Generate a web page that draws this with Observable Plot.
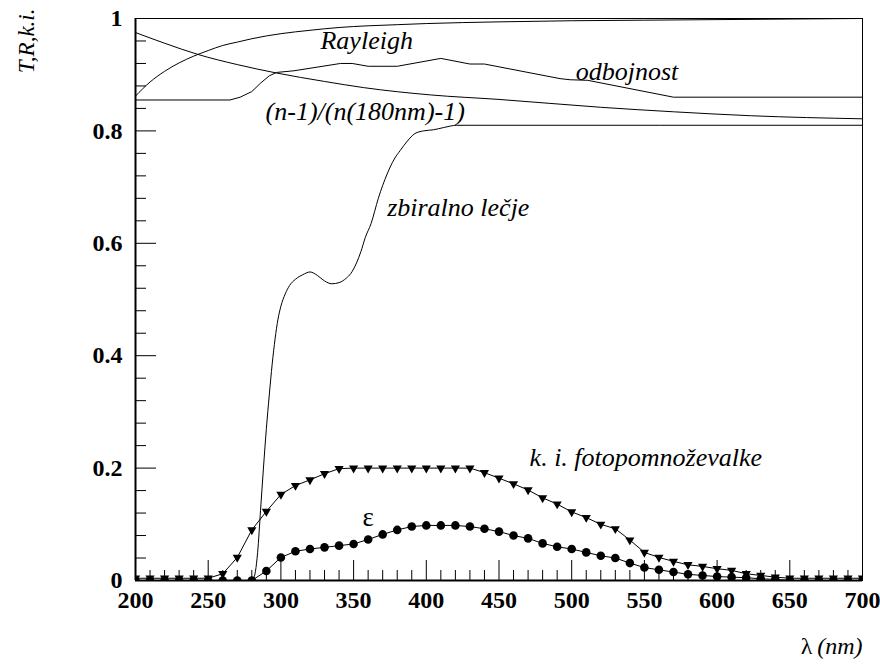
<!DOCTYPE html>
<html><head><meta charset="utf-8">
<script src="https://cdn.jsdelivr.net/npm/d3@7"></script>
<script src="https://cdn.jsdelivr.net/npm/@observablehq/plot@0.6"></script>
<style>body{margin:0;background:#fff}</style>
</head><body><div id="chart"></div>
<script>
// ---- data (wavelength in nm, values 0..1) ----
const lambdaMarkers = [200,210,220,230,240,250,260,270,280,290,300,310,320,330,340,350,360,370,380,390,400,410,420,430,440,450,460,470,480,490,500,510,520,530,540,550,560,570,580,590,600,610,620,630,640,650,660,670,680,690,700];
const kiValues = [0.004,0.004,0.004,0.004,0.004,0.004,0.012,0.041,0.09,0.123,0.153,0.169,0.179,0.19,0.199,0.2,0.2,0.2,0.2,0.2,0.2,0.2,0.2,0.2,0.192,0.182,0.172,0.161,0.147,0.136,0.122,0.112,0.1,0.092,0.072,0.05,0.041,0.034,0.028,0.025,0.021,0.018,0.012,0.009,0.006,0.004,0.004,0.004,0.004,0.004,0.004];
const epsValues = [0,0,0,0,0,0,0,0,0,0.017,0.041,0.052,0.056,0.059,0.062,0.065,0.073,0.082,0.09,0.096,0.098,0.098,0.098,0.096,0.092,0.087,0.08,0.075,0.066,0.06,0.056,0.05,0.044,0.04,0.031,0.023,0.019,0.015,0.011,0.009,0.007,0.006,0.005,0.003,0.002,0,0,0,0,0,0];

const lensLambda = [200,278,281,284,286,288,290,292,294,296,298,300,303,306,310,315,320,325,330,335,340,345,348,352,355,358,362,367,373,378,382,387,392,398,405,412,421,700];
const lensT = [0,0,0.003,0.05,0.125,0.2,0.27,0.33,0.385,0.43,0.465,0.488,0.51,0.525,0.536,0.544,0.549,0.543,0.533,0.528,0.53,0.538,0.546,0.565,0.585,0.61,0.635,0.68,0.723,0.75,0.765,0.782,0.795,0.8,0.802,0.806,0.81,0.81];

const rayleighLambda = [200,210,220,230,240,250,260,270,280,290,300,320,340,360,380,400,450,500,550,600,650,700];
const rayleighT = [0.862,0.887,0.906,0.921,0.933,0.943,0.952,0.958,0.964,0.969,0.973,0.979,0.984,0.987,0.989,0.991,0.994,0.996,0.997,0.998,0.999,1.0];

const indexLambda = [200,220,243,270,297,330,357,403,450,520,570,623,700];
const indexRatio = [0.975,0.956,0.936,0.918,0.903,0.888,0.877,0.864,0.856,0.842,0.834,0.827,0.8215];

const reflLambda = [200,265,272,280,286,292,297,309,341,349,360,380,410,430,440,492,499,511,570,700];
const reflR = [0.855,0.855,0.86,0.87,0.885,0.898,0.904,0.907,0.92,0.92,0.915,0.915,0.929,0.919,0.919,0.893,0.891,0.89,0.86,0.86];

const xMajorTicks = [200,250,300,350,400,450,500,550,600,650,700];
const xMinorTicks = [210,220,230,240,260,270,280,290,310,320,330,340,360,370,380,390,410,420,430,440,460,470,480,490,510,520,530,540,560,570,580,590,610,620,630,640,660,670,680,690];
const yMajorTicks = [0,0.2,0.4,0.6,0.8,1];
const yTickLabels = ["0","0.2","0.4","0.6","0.8","1"];
const yMinorTicks = [0.04,0.08,0.12,0.16,0.24,0.28,0.32,0.36,0.44,0.48,0.52,0.56,0.64,0.68,0.72,0.76,0.84,0.88,0.92,0.96];

const curveLabels = ["Rayleigh","odbojnost","(n-1)/(n(180nm)-1)","zbiralno lečje","k. i. fotopomnoževalke"];
const curveLabelX = [359,538,358,422,551];
const curveLabelY = [0.96,0.906,0.835,0.663,0.218];
const epsLabel = {text: "ε", x: 360, y: 0.112};
const yTitle = "T,R,k.i.";
const xTitleSymbol = "λ";
const xTitleUnit = "(nm)";

// ---- build tables ----
const zip = (xs, ys) => xs.map((x, i) => ({x, y: ys[i]}));
const ki = zip(lambdaMarkers, kiValues);
const eps = zip(lambdaMarkers, epsValues);
const lens = zip(lensLambda, lensT);
const rayleigh = zip(rayleighLambda, rayleighT);
const idx = zip(indexLambda, indexRatio);
const refl = zip(reflLambda, reflR);
const labels = curveLabels.map((t, i) => ({t, x: curveLabelX[i], y: curveLabelY[i]}));

const W = 880, H = 671, mL = 135, mR = 18, mT = 18, mB = 91;
const fw = W - mL - mR, fh = H - mT - mB;
const SERIF = "Liberation Serif";

const chart = Plot.plot({
  width: W, height: H,
  marginLeft: mL, marginRight: mR, marginTop: mT, marginBottom: mB,
  x: {domain: [200, 700], ticks: xMajorTicks, tickSize: 0, tickFormat: () => "", label: null},
  y: {domain: [0, 1], ticks: yMajorTicks, tickSize: 0, tickFormat: () => "", label: null},
  style: {background: "white", color: "black"},
  marks: [
    Plot.tickX(xMinorTicks, {x: d => d, insetTop: fh - 10, stroke: "black", strokeWidth: 1}),
    Plot.tickX(xMajorTicks, {x: d => d, insetTop: fh - 20, stroke: "black", strokeWidth: 1}),
    Plot.tickY(yMinorTicks, {y: d => d, insetRight: fw - 11, stroke: "black", strokeWidth: 1}),
    Plot.tickY(yMajorTicks, {y: d => d, insetRight: fw - 21, stroke: "black", strokeWidth: 1}),
    Plot.text(xMajorTicks, {x: d => d, text: d => String(d), frameAnchor: "bottom", lineAnchor: "top", dy: 10, fontSize: 24, fontWeight: "bold", fontFamily: SERIF, fill: "black"}),
    Plot.text(yMajorTicks, {y: d => d, text: d => yTickLabels[yMajorTicks.indexOf(d)], frameAnchor: "left", textAnchor: "end", lineAnchor: "middle", dx: -13, fontSize: 24, fontWeight: "bold", fontFamily: SERIF, fill: "black"}),
    Plot.frame({stroke: "black", strokeWidth: 1}),
    Plot.ruleX([200], {stroke: "black", strokeWidth: 2}),
    Plot.ruleY([0], {stroke: "black", strokeWidth: 2}),
    // curves
    Plot.line(rayleigh, {x: "x", y: "y", stroke: "black", strokeWidth: 1, curve: "monotone-x", clip: true}),
    Plot.line(idx, {x: "x", y: "y", stroke: "black", strokeWidth: 1, curve: "monotone-x", clip: true}),
    Plot.line(refl, {x: "x", y: "y", stroke: "black", strokeWidth: 1, clip: true}),
    Plot.line(lens, {x: "x", y: "y", stroke: "black", strokeWidth: 1, curve: "monotone-x", clip: true}),
    Plot.line(ki, {x: "x", y: "y", stroke: "black", strokeWidth: 1, clip: true}),
    Plot.line(eps, {x: "x", y: "y", stroke: "black", strokeWidth: 1, clip: true}),
    Plot.dot(eps, {x: "x", y: "y", r: 4.3, fill: "black", stroke: "none", clip: true}),
    Plot.dot(ki, {x: "x", y: "y", r: 3.4, symbol: "triangle", rotate: 180, fill: "black", stroke: "none", clip: true}),
    // labels
    Plot.text(labels, {x: "x", y: "y", text: "t", fontSize: 26, fontStyle: "italic", fontFamily: SERIF, textAnchor: "middle", lineAnchor: "middle", fill: "black"}),
    Plot.text([epsLabel], {x: "x", y: "y", text: "text", fontSize: 27, fontFamily: SERIF, textAnchor: "middle", lineAnchor: "middle", fill: "black"}),
    Plot.text([yTitle], {frameAnchor: "top-left", rotate: -90, textAnchor: "end", lineAnchor: "middle", dx: -109, dy: -10, fontSize: 23, fontStyle: "italic", fontFamily: SERIF, fill: "black"}),
    Plot.text([xTitleUnit], {frameAnchor: "bottom-right", textAnchor: "end", lineAnchor: "middle", dx: 0, dy: 66, fontSize: 24, fontStyle: "italic", fontFamily: SERIF, fill: "black"}),
    Plot.text([xTitleSymbol], {frameAnchor: "bottom-right", textAnchor: "end", lineAnchor: "middle", dx: -50, dy: 66, fontSize: 24, fontFamily: SERIF, fill: "black"})
  ]
});
document.getElementById("chart").appendChild(chart);
</script>
</body></html>
